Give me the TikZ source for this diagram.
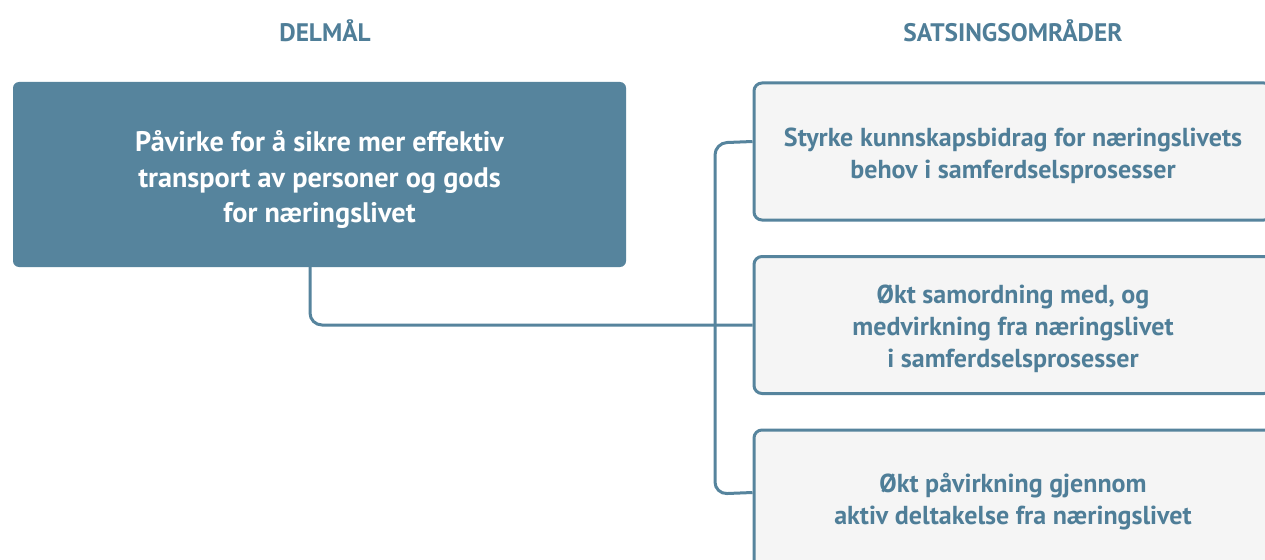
\documentclass[tikz,border=0pt]{standalone}
\usepackage{fontspec}
\setmainfont{PT Sans}
\usetikzlibrary{calc}
\definecolor{steel}{HTML}{56849D}
\definecolor{steeltxt}{HTML}{4F7E98}
\definecolor{paper}{HTML}{F5F5F5}
\tikzset{
  head/.style={font=\bfseries\fontsize{19pt}{21pt}\selectfont, text=steeltxt, inner sep=0pt},
  goalbox/.style={fill=steel, rounded corners=4.5pt, minimum width=459.75pt, minimum height=138.75pt, inner sep=0pt},
  goaltext/.style={inner sep=0pt, align=center, text=white, font=\bfseries\fontsize{21.2pt}{26.5pt}\selectfont},
  areabox/.style={fill=paper, draw=steel, line width=2.25pt, rounded corners=6pt, minimum width=388.5pt, minimum height=102.75pt, inner sep=0pt},
  areatext/.style={inner sep=0pt, align=center, text=steeltxt, font=\bfseries\fontsize{19.5pt}{24pt}\selectfont},
  link/.style={draw=steel, line width=2.25pt, rounded corners=9pt}
}
\begin{document}
\begin{tikzpicture}[x=0.75pt,y=-0.75pt]
\useasboundingbox[fill=white] (0,0) rectangle (1265,560);
\node[head] (h1) at (325,31) {DELMÅL};
\node[head] (h2) at (1013,31) {SATSINGSOMRÅDER};
\node[goalbox] (goal) at (319.5,174.5) {};
\node[goaltext] (goalt) at ($(goal.center)+(0,5)$) {Påvirke for å sikre mer effektiv\\transport av personer og gods\\for næringslivet};
\node[areabox] (a1) at (1013,151.5) {};
\node[areatext] (a1t) at ($(a1.center)+(0,4)$) {Styrke kunnskapsbidrag for næringslivets\\behov i samferdselsprosesser};
\node[areabox] (a2) at (1013,325) {};
\node[areatext] (a2t) at ($(a2.center)+(0,4)$) {Økt samordning med, og\\medvirkning fra næringslivet\\i samferdselsprosesser};
\node[areabox, minimum height=103.5pt] (a3) at (1013,499) {};
\node[areatext] (a3t) at ($(a3.center)+(0,3)$) {Økt påvirkning gjennom\\aktiv deltakelse fra næringslivet};
\coordinate (gbot) at (310,267);
\coordinate (a1in) at ($(a1.north west)+(0,60)$);
\coordinate (a3in) at ($(a3.north west)+(0,64)$);
\draw[link] (gbot) |- (a2.west);
\draw[link] (a1in) -- (715,143) -- (715,494) -- (a3in);
\end{tikzpicture}
\end{document}
